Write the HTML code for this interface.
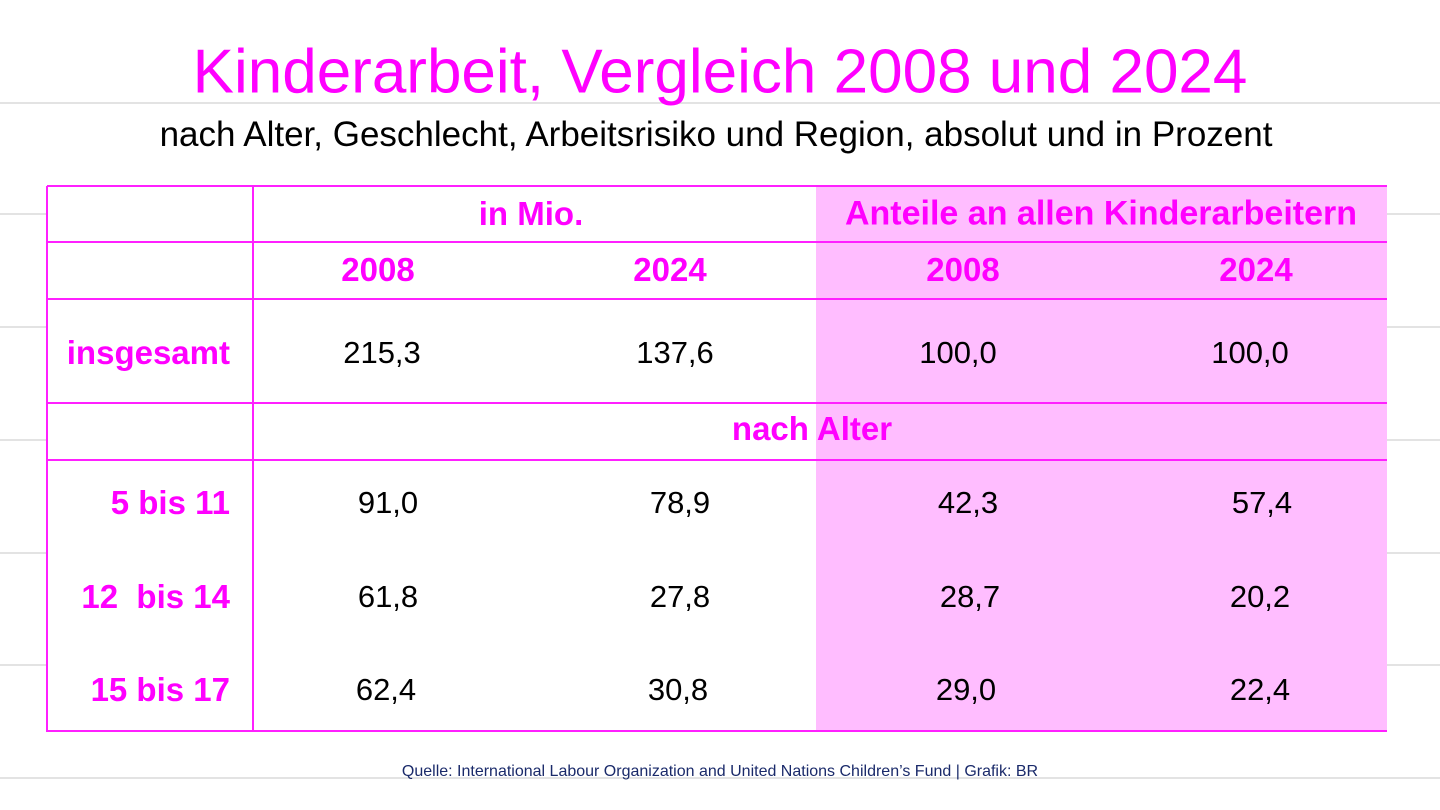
<!DOCTYPE html>
<html><head><meta charset="utf-8"><style>
body{margin:0;width:1440px;height:810px;background:#fff;position:relative;overflow:hidden;font-family:"Liberation Sans",sans-serif}
.g{position:absolute;left:0;width:1440px;height:2px;background:#e3e3e3}
.h{position:absolute;height:2px;background:#ff20ff;left:47px;width:1340px}
.v{position:absolute;width:2px;background:#ff20ff;top:186px;height:546px}
.t{position:absolute;transform:translate(-50%,-50%);white-space:nowrap;font-size:31px;color:#000}
.m{color:#f0f;font-weight:bold;font-size:33px}
.r{position:absolute;transform:translateY(-50%);right:1210px;white-space:nowrap;font-size:33px;color:#f0f;font-weight:bold}
</style></head><body>
<div class="g" style="top:102px"></div><div class="g" style="top:213px"></div><div class="g" style="top:326px"></div><div class="g" style="top:439px"></div><div class="g" style="top:552px"></div><div class="g" style="top:664px"></div><div class="g" style="top:777px"></div>
<div style="position:absolute;left:47px;top:186px;width:769px;height:546px;background:#fff"></div>
<div style="position:absolute;left:816px;top:186px;width:571px;height:546px;background:#ffbdff"></div>
<div class="h" style="top:185px"></div><div class="h" style="top:241px"></div><div class="h" style="top:298px"></div><div class="h" style="top:402px"></div><div class="h" style="top:459px"></div><div class="h" style="top:730px"></div>
<div class="v" style="left:46px"></div><div class="v" style="left:252px"></div>
<div class="t" style="left:720px;top:72px;font-size:62px;color:#f0f">Kinderarbeit, Vergleich 2008 und 2024</div>
<div class="t" style="left:716px;top:135px;font-size:35px">nach Alter, Geschlecht, Arbeitsrisiko und Region, absolut und in Prozent</div>
<div class="t m" style="left:531px;top:214px">in Mio.</div>
<div class="t m" style="left:1101px;top:214px;font-size:34px">Anteile an allen Kinderarbeitern</div>
<div class="t m" style="left:378px;top:270px">2008</div><div class="t m" style="left:670px;top:270px">2024</div><div class="t m" style="left:963px;top:270px">2008</div><div class="t m" style="left:1256px;top:270px">2024</div>
<div class="r" style="top:353px">insgesamt</div>
<div class="t" style="left:382px;top:353px">215,3</div><div class="t" style="left:675px;top:353px">137,6</div><div class="t" style="left:958px;top:353px">100,0</div><div class="t" style="left:1250px;top:353px">100,0</div>
<div class="t m" style="left:812px;top:429px">nach Alter</div>
<div class="r" style="top:503px">5 bis 11</div>
<div class="t" style="left:388px;top:503px">91,0</div><div class="t" style="left:680px;top:503px">78,9</div><div class="t" style="left:968px;top:503px">42,3</div><div class="t" style="left:1262px;top:503px">57,4</div>
<div class="r" style="top:597px">12&nbsp; bis 14</div>
<div class="t" style="left:388px;top:597px">61,8</div><div class="t" style="left:680px;top:597px">27,8</div><div class="t" style="left:970px;top:597px">28,7</div><div class="t" style="left:1260px;top:597px">20,2</div>
<div class="r" style="top:690px">15 bis 17</div>
<div class="t" style="left:386px;top:690px">62,4</div><div class="t" style="left:678px;top:690px">30,8</div><div class="t" style="left:966px;top:690px">29,0</div><div class="t" style="left:1260px;top:690px">22,4</div>
<div class="t" style="left:720px;top:772px;font-size:16px;color:#1a2a6a">Quelle: International Labour Organization and United Nations Children’s Fund | Grafik: BR</div>
</body></html>
